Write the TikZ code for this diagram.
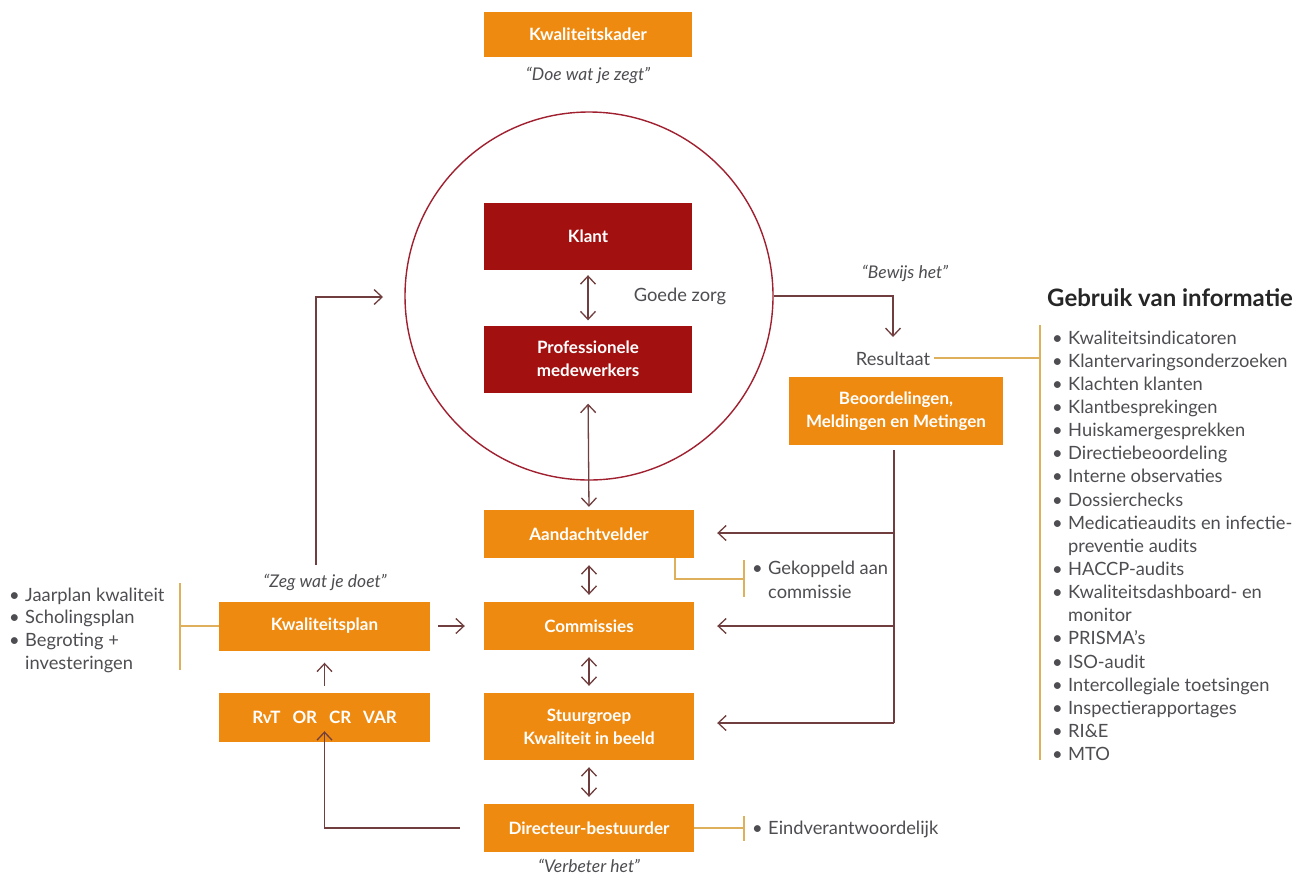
\documentclass[tikz,border=0pt]{standalone}
\usepackage{fontspec}
\setmainfont{Lato}
\usetikzlibrary{arrows.meta,calc}
\definecolor{org}{RGB}{239,138,17}
\definecolor{dred}{RGB}{163,16,16}
\definecolor{circ}{RGB}{160,32,48}
\definecolor{lnc}{RGB}{112,62,62}
\definecolor{tgrey}{RGB}{78,78,82}
\definecolor{oline}{RGB}{222,176,92}
\tikzset{
  obox/.style={fill=org, text=white, font=\bfseries\fontsize{17}{23}\selectfont, minimum width=210pt, minimum height=48pt, align=center, inner sep=0pt},
  rbox/.style={obox, fill=dred},
  txt/.style={text=tgrey, font=\fontsize{18.3}{22}\selectfont, inner sep=0pt},
  quote/.style={text=tgrey, font=\itshape\fontsize{17.5}{20}\selectfont, inner sep=0pt},
  barb/.tip={Straight Barb[length=8pt,width=15pt]},
  conn/.style={draw=lnc, line width=1.3pt},
  oconn/.style={draw=oline, line width=1.2pt},
}
\begin{document}
\begin{tikzpicture}[x=1pt,y=-1pt]
\useasboundingbox[fill=white] (0,0) rectangle (1311,876);

% top
\node[obox, minimum width=208pt, minimum height=45pt] (kader) at (588,34) {Kwaliteitskader};
\node[quote] (q1) at (588,75) {“Doe wat je zegt”};

% circle
\node[circle, draw=circ, line width=1.4pt, minimum size=368pt, inner sep=0pt] (circ) at (589,296) {};
\node[rbox, minimum width=208pt, minimum height=67pt] (klant) at (588,236.5) {Klant};
\node[rbox, minimum width=208pt, minimum height=67pt] (prof) at (588,359) {Professionele\\medewerkers};
\draw[conn, barb-barb, shorten <=5pt, shorten >=5pt] (klant.south) -- (prof.north);
\node[txt] (goed) at (680,296) {Goede zorg};

% centre column
\node[obox] (aand) at (589,534) {Aandachtvelder};
\node[obox] (comm) at (589,626) {Commissies};
\node[obox, minimum height=67pt] (stuur) at (589,726.5) {Stuurgroep\\Kwaliteit in beeld};
\node[obox] (dir) at (589,828) {Directeur-bestuurder};
\node[quote] (q4) at (589,866) {“Verbeter het”};

\draw[conn, barb-barb, shorten <=3pt, shorten >=11pt] (aand.north) -- (prof.south);
\draw[conn, barb-barb, shorten <=7pt, shorten >=7pt] (aand.south) -- (comm.north);
\draw[conn, barb-barb, shorten <=7pt, shorten >=7pt] (comm.south) -- (stuur.north);
\draw[conn, barb-barb, shorten <=7pt, shorten >=7pt] (stuur.south) -- (dir.north);

% right: bewijs het
\node[quote] (q2) at (905,273) {“Bewijs het”};
\node[txt] (res) at (893,359) {Resultaat};
\coordinate (cr) at (circ.east);
\draw[conn, -barb] (cr) -- (893,296) -- (893,337);
\node[obox, minimum width=214pt, minimum height=68pt] (beo) at (896,411) {Beoordelingen,\\Meldingen en Metingen};

\coordinate (bv) at (894,723);
\draw[conn] (beo.south) ++(-2,5) coordinate (bt) -- (bv);
\draw[conn, -barb] (894,533) -- ([xshift=23pt]aand.east |- 0,533);
\draw[conn, -barb] (894,626) -- ([xshift=23pt]comm.east);
\draw[conn, -barb] (bv) -- ([xshift=23pt]stuur.east |- bv);

% gekoppeld
\coordinate (gk) at (744,579);
\draw[oconn] (675,558) -- (675,579) -- (gk);
\draw[oconn] (744,560) -- (744,597);
\node[txt, anchor=base west] (gk1) at (768,574) {Gekoppeld aan};
\node[txt, anchor=base west] (gk2) at (768,598) {commissie};
\node[txt, anchor=base east] (gkb) at (763,574) {\textbullet};

% eindverantwoordelijk
\draw[oconn] (dir.east) -- (744,828);
\draw[oconn] (744,816) -- (744,841);
\node[txt, anchor=base west] (eind) at (768,834) {Eindverantwoordelijk};
\node[txt, anchor=base east] (eindb) at (763,834) {\textbullet};

% left side
\node[obox, minimum width=211pt, minimum height=49pt] (kplan) at (324.5,626) {Kwaliteitsplan};
\node[obox, minimum width=211pt, minimum height=49pt] (rvt) at (324.5,717.5) {RvT\hspace{0.7em}OR\hspace{0.7em}CR\hspace{0.7em}VAR};
\node[quote] (q3) at (325,582) {“Zeg wat je doet”};
\draw[conn, -barb] (kplan.east) ++(8,0) -- ([xshift=-19pt]comm.west);
\draw[conn, -barb, shorten <=7pt, shorten >=12pt] (rvt.north) -- (kplan.south);
\draw[conn, -barb] ([xshift=-24pt]dir.west) -- (rvt.south |- dir.west) -- ([yshift=11pt]rvt.south);
\draw[conn, -barb] (316,565) -- (316,297) -- (383,297);

\draw[oconn] (180,583) -- (180,670);
\draw[oconn] (180,626) -- (kplan.west);
\foreach \b/\t [count=\i] in {1/Jaarplan kwaliteit, 1/Scholingsplan, 1/Begroting +, 0/investeringen} {
  \node[txt, anchor=base west] (l\i) at (25,{601+(\i-1)*22.7}) {\t};
  \ifnum\b=1 \node[txt, anchor=base east] (lb\i) at (20,{601+(\i-1)*22.7}) {\textbullet};\fi
}

% info list
\node[anchor=base west, font=\bfseries\fontsize{24}{28}\selectfont, text=black!85, inner sep=0pt] (gebr) at (1047,306) {Gebruik van informatie};
\draw[oconn] (1040,325) -- (1040,760);
\draw[oconn] (res.east) ++(4,-1) -- (1040,358);
\foreach \b/\t [count=\i] in {1/Kwaliteitsindicatoren, 1/Klantervaringsonderzoeken, 1/Klachten klanten, 1/Klantbesprekingen, 1/Huiskamergesprekken, 1/Directiebeoordeling, 1/Interne observaties, 1/Dossierchecks, 1/Medicatieaudits en infectie-, 0/preventie audits, 1/HACCP-audits, 1/Kwaliteitsdashboard- en, 0/monitor, 1/PRISMA’s, 1/ISO-audit, 1/Intercollegiale toetsingen, 1/Inspectierapportages, 1/RI\&E, 1/MTO} {
  \node[txt, anchor=base west] (inf\i) at (1068,{344+(\i-1)*23.15}) {\t};
  \ifnum\b=1 \node[txt, anchor=base east] (ib\i) at (1063,{344+(\i-1)*23.15}) {\textbullet};\fi
}
\end{tikzpicture}
\end{document}
